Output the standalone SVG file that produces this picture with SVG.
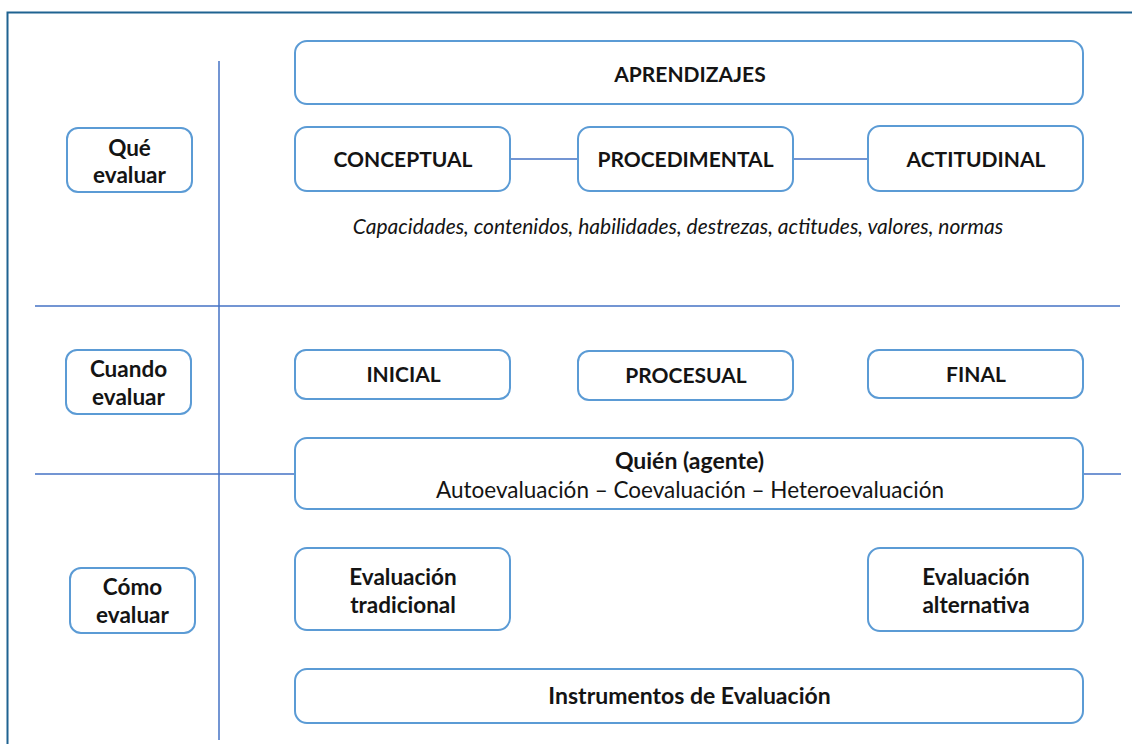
<svg xmlns="http://www.w3.org/2000/svg" width="1132" height="744" viewBox="0 0 1132 744">
<style>
.box{fill:#fff;stroke:#5b9bd5;stroke-width:2}
.ln{stroke:#4472c4;stroke-width:1.5;fill:none}
.b{font-family:Lato,"Open Sans",sans-serif;font-weight:bold;font-size:21px;fill:#141414;text-anchor:middle}
.b2{font-size:22.5px}
.r{font-family:Lato,"Open Sans",sans-serif;font-size:22.5px;fill:#141414;text-anchor:middle}
.i{font-family:Lato,"Open Sans",sans-serif;font-style:italic;font-size:21px;fill:#141414;text-anchor:middle}
</style>
<rect width="1132" height="744" fill="#fff"/>
<path d="M7.5 744V12.5H1140" fill="none" stroke="#1f6391" stroke-width="2"/>
<g id="connectors">
<line class="ln" x1="219" y1="61" x2="219" y2="740"/>
<line class="ln" x1="35" y1="306" x2="1120" y2="306"/>
<line class="ln" x1="35" y1="474" x2="295" y2="474"/>
<line class="ln" x1="1083" y1="474" x2="1121" y2="474"/>
<line class="ln" x1="510" y1="159" x2="578" y2="159"/>
<line class="ln" x1="793" y1="159" x2="868" y2="159"/>
</g>
<g id="que-evaluar"><rect class="box" x="67" y="128" width="125" height="64" rx="11"/><text class="b b2" x="129.5" y="156">Qué</text><text class="b b2" x="129.5" y="183">evaluar</text></g>
<g id="cuando-evaluar"><rect class="box" x="66" y="350" width="125" height="64" rx="11"/><text class="b b2" x="128.5" y="377">Cuando</text><text class="b b2" x="128.5" y="405">evaluar</text></g>
<g id="como-evaluar"><rect class="box" x="70" y="568" width="125" height="65" rx="11"/><text class="b b2" x="132.5" y="595">Cómo</text><text class="b b2" x="132.5" y="623">evaluar</text></g>
<g id="aprendizajes"><rect class="box" x="295" y="41" width="788" height="63" rx="12"/><text class="b" x="690" y="82">APRENDIZAJES</text></g>
<g id="conceptual"><rect class="box" x="295" y="127" width="215" height="64" rx="12"/><text class="b" x="403" y="167">CONCEPTUAL</text></g>
<g id="procedimental"><rect class="box" x="578" y="127" width="215" height="64" rx="12"/><text class="b" x="685.5" y="167">PROCEDIMENTAL</text></g>
<g id="actitudinal"><rect class="box" x="868" y="126" width="215" height="65" rx="12"/><text class="b" x="976" y="167">ACTITUDINAL</text></g>
<g id="nota"><text class="i" x="678" y="234">Capacidades, contenidos, habilidades, destrezas, actitudes, valores, normas</text></g>
<g id="inicial"><rect class="box" x="295" y="350" width="215" height="49" rx="11"/><text class="b" x="403.5" y="382">INICIAL</text></g>
<g id="procesual"><rect class="box" x="578" y="351" width="215" height="49" rx="11"/><text class="b" x="686" y="383">PROCESUAL</text></g>
<g id="final"><rect class="box" x="868" y="350" width="215" height="48" rx="11"/><text class="b" x="976" y="382">FINAL</text></g>
<g id="quien"><rect class="box" x="295" y="438" width="788" height="71" rx="12"/><text class="b" x="689.5" y="469" style="font-size:23px">Quién (agente)</text><text class="r" x="690" y="498">Autoevaluación – Coevaluación – Heteroevaluación</text></g>
<g id="tradicional"><rect class="box" x="295" y="548" width="215" height="82" rx="12"/><text class="b b2" x="403" y="585">Evaluación</text><text class="b b2" x="403" y="613">tradicional</text></g>
<g id="alternativa"><rect class="box" x="868" y="548" width="215" height="83" rx="12"/><text class="b b2" x="976" y="585">Evaluación</text><text class="b b2" x="976" y="613">alternativa</text></g>
<g id="instrumentos"><rect class="box" x="295" y="669" width="788" height="54" rx="12"/><text class="b" x="689.5" y="704" style="font-size:23px">Instrumentos de Evaluación</text></g>
</svg>
